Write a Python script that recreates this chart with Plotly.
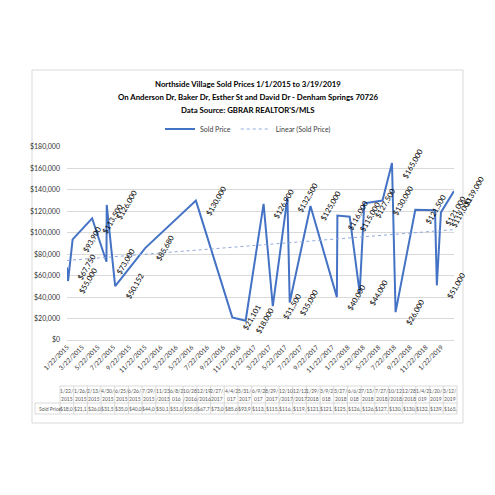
import numpy as np
import pandas as pd
import plotly.graph_objects as go

# ---------------- data ----------------
dates = ['2015-01-22', '2015-01-26', '2015-02-13', '2015-04-30', '2015-06-25', '2015-06-26',
         '2015-07-29', '2015-11-23', '2016-06-08', '2016-10-28', '2016-12-19', '2017-02-27',
         '2017-04-04', '2017-05-31', '2017-06-09', '2017-08-29', '2017-12-10', '2017-12-12',
         '2018-01-29', '2018-03-09', '2018-03-27', '2018-06-06', '2018-07-13', '2018-07-27',
         '2018-10-12', '2018-12-28', '2019-01-04', '2019-01-20', '2019-03-12']
prices = [67750, 55000, 93900, 113500, 73000, 126000,
          50152, 85680, 130000, 21101, 18000, 126900,
          31500, 132500, 35000, 125000, 40000, 116000,
          115000, 44000, 127500, 130000, 165000, 26000,
          121500, 121000, 51000, 119000, 139000]

tick_dates = ['2015-01-22', '2015-03-22', '2015-05-22', '2015-07-22', '2015-09-22', '2015-11-22',
              '2016-01-22', '2016-03-22', '2016-05-22', '2016-07-22', '2016-09-22', '2016-11-22',
              '2017-01-22', '2017-03-22', '2017-05-22', '2017-07-22', '2017-09-22', '2017-11-22',
              '2018-01-22', '2018-03-22', '2018-05-22', '2018-07-22', '2018-09-22', '2018-11-22',
              '2019-01-22']
tick_labels = ['1/22/2015', '3/22/2015', '5/22/2015', '7/22/2015', '9/22/2015', '11/22/2015',
               '1/22/2016', '3/22/2016', '5/22/2016', '7/22/2016', '9/22/2016', '11/22/2016',
               '1/22/2017', '3/22/2017', '5/22/2017', '7/22/2017', '9/22/2017', '11/22/2017',
               '1/22/2018', '3/22/2018', '5/22/2018', '7/22/2018', '9/22/2018', '11/22/2018',
               '1/22/2019']

title_lines = ['Northside Village Sold Prices 1/1/2015 to 3/19/2019',
               'On Anderson Dr, Baker Dr, Esther St and David Dr - Denham Springs 70726',
               'Data Source: GBRAR REALTOR\'S/MLS']

# ---------------- geometry helpers (pixels -> paper) ----------------
W = H = 495
L, R, T, B = 67, 454, 147, 340


def xp(px):
    return (px - L) / (R - L)


def yp(py):
    return (B - py) / (B - T)


FONT = 'Lato'
dt = pd.to_datetime(dates)
days = (dt - dt[0]).days.values.astype(float)
coef = np.polyfit(days, np.array(prices, dtype=float), 1)
trend_x = [dates[0], dates[-1]]
trend_y = list(np.polyval(coef, [days[0], days[-1]]))

fig = go.Figure()
fig.add_trace(go.Scatter(x=dates, y=prices, mode='lines', name='Sold Price',
                         line=dict(color='#4472C4', width=2)))
fig.add_trace(go.Scatter(x=trend_x, y=trend_y, mode='lines', name='Linear (Sold Price)',
                         line=dict(color='#8FAADC', width=1, dash='dot')))

annotations = []
# data labels
for d, p in zip(dates, prices):
    annotations.append(dict(x=d, y=p, xref='x', yref='y', text=f'${p:,}', showarrow=False,
                            textangle=-60, xanchor='left', yanchor='middle', xshift=6,
                            font=dict(family=FONT, size=7.5, color='#000000')))
# title lines
for i, t in enumerate(title_lines):
    annotations.append(dict(x=xp(W / 2), y=yp(84 + 13 * i), xref='paper', yref='paper', text=f'<b>{t}</b>',
                            showarrow=False, xanchor='center', yanchor='middle',
                            font=dict(family=FONT, size=7.8, color='#000000')))

# data table
col0 = 60.0
col_w = (457.0 - col0) / len(dates)
tab_top, tab_mid, tab_bot = 386, 403, 414
shapes = []
line_col = '#D0D0D0'
shapes.append(dict(type='rect', xref='paper', yref='paper', x0=xp(32), x1=xp(463), y0=yp(70), y1=yp(423),
                   line=dict(color='#D9D9D9', width=1), layer='below'))
shapes.append(dict(type='line', xref='paper', yref='paper', x0=xp(col0), x1=xp(457), y0=yp(tab_top), y1=yp(tab_top),
                   line=dict(color=line_col, width=0.8)))
for yy in (tab_mid, tab_bot):
    shapes.append(dict(type='line', xref='paper', yref='paper', x0=xp(35), x1=xp(457), y0=yp(yy), y1=yp(yy),
                       line=dict(color=line_col, width=0.8)))
shapes.append(dict(type='line', xref='paper', yref='paper', x0=xp(35), x1=xp(35), y0=yp(tab_mid), y1=yp(tab_bot),
                   line=dict(color=line_col, width=0.8)))
for i in range(len(dates) + 1):
    xx = col0 + i * col_w
    shapes.append(dict(type='line', xref='paper', yref='paper', x0=xp(xx), x1=xp(xx), y0=yp(tab_top), y1=yp(tab_bot),
                       line=dict(color=line_col, width=0.8)))

sorted_prices = sorted(prices)
for i, d in enumerate(dt):
    label = f'{d.month}/{d.day}/{d.year}'
    cx = xp(col0 + (i + 0.5) * col_w)
    annotations.append(dict(x=cx, y=yp(390.5), xref='paper', yref='paper', text=label[:5], showarrow=False,
                            xanchor='center', yanchor='middle', font=dict(family=FONT, size=5, color='#595959')))
    annotations.append(dict(x=cx, y=yp(398.5), xref='paper', yref='paper', text=label[5:], showarrow=False,
                            xanchor='center', yanchor='middle', font=dict(family=FONT, size=5, color='#595959')))
    annotations.append(dict(x=cx, y=yp(408.5), xref='paper', yref='paper', text=f'${sorted_prices[i]:,}'[:5],
                            showarrow=False, xanchor='center', yanchor='middle',
                            font=dict(family=FONT, size=5, color='#595959')))
annotations.append(dict(x=xp(37), y=yp(408.5), xref='paper', yref='paper', text='Sold Price', showarrow=False,
                        xanchor='left', yanchor='middle', font=dict(family=FONT, size=5, color='#595959')))

fig.update_layout(
    width=W, height=H,
    margin=dict(l=L, r=W - R, t=T, b=H - B),
    paper_bgcolor='white', plot_bgcolor='white',
    font=dict(family=FONT, color='#404040'),
    showlegend=True,
    legend=dict(orientation='h', xref='paper', yref='paper', x=xp(248), xanchor='center',
                y=yp(129), yanchor='middle', font=dict(family=FONT, size=7, color='#404040'),
                itemwidth=30, bgcolor='rgba(0,0,0,0)'),
    xaxis=dict(type='date', range=[dates[0], dates[-1]], tickvals=tick_dates, ticktext=tick_labels,
               tickangle=-45, tickfont=dict(family=FONT, size=6.5, color='#333333'),
               showgrid=False, zeroline=False, showline=True, linecolor='#D9D9D9', linewidth=1,
               ticks=''),
    yaxis=dict(range=[0, 180000], dtick=20000, tickformat='$,.0f',
               tickfont=dict(family=FONT, size=7, color='#333333'),
               showgrid=True, gridcolor='#D9D9D9', gridwidth=1, zeroline=False, showline=False, ticks='',
               ticklabelstandoff=6),
    annotations=annotations,
    shapes=shapes,
)

fig.write_html('out.html')
